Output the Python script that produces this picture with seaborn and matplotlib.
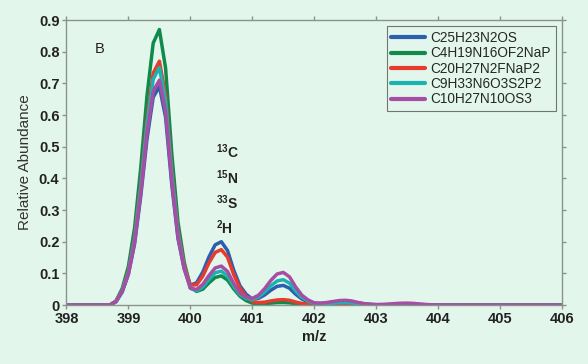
import numpy as np
import pandas as pd
import matplotlib
matplotlib.use("Agg")
import matplotlib.pyplot as plt
import seaborn as sns

# m/z grid (0.1 steps, 398 -> 406)
mz = np.round(np.linspace(398.0, 406.0, 81), 1)

formulas = ["C25H23N2OS", "C4H19N16OF2NaP", "C20H27N2FNaP2", "C9H33N6O3S2P2", "C10H27N10OS3"]
colors = ["#2b5fae", "#0f8a4c", "#e63b2e", "#1bb3b0", "#a64ea3"]

# relative abundance, one value per m/z point
blue = [0, 0, 0, 0, 0, 0, 0, 0, 0.010, 0.041,
        0.097, 0.193, 0.345, 0.524, 0.656, 0.690, 0.593, 0.380, 0.210, 0.116,
        0.063, 0.070, 0.104, 0.152, 0.190, 0.200, 0.172, 0.110, 0.061, 0.034,
        0.019, 0.021, 0.032, 0.047, 0.059, 0.062, 0.053, 0.034, 0.019, 0.010,
        0.005, 0.005, 0.006, 0.009, 0.011, 0.012, 0.010, 0.007, 0.004, 0.002,
        0.001, 0.001, 0.0015, 0.0023, 0.0029, 0.003, 0.0026, 0.0017, 0.0009, 0.0005,
        0.0002, 0, 0, 0, 0, 0, 0, 0, 0, 0,
        0, 0, 0, 0, 0, 0, 0, 0, 0, 0, 0]
green = [0, 0, 0, 0, 0, 0, 0, 0, 0.013, 0.052,
         0.122, 0.244, 0.435, 0.661, 0.827, 0.870, 0.748, 0.479, 0.262, 0.136,
         0.056, 0.043, 0.050, 0.070, 0.087, 0.092, 0.079, 0.051, 0.028, 0.014,
         0.006, 0.004, 0.0045, 0.006, 0.0076, 0.008, 0.0069, 0.0044, 0.0024, 0.0013,
         0.0005, 0.0003, 0.0005, 0.0008, 0.001, 0.001, 0.0009, 0.0006, 0.0003, 0.0002,
         0, 0, 0, 0, 0, 0, 0, 0, 0, 0,
         0, 0, 0, 0, 0, 0, 0, 0, 0, 0,
         0, 0, 0, 0, 0, 0, 0, 0, 0, 0, 0]
red = [0, 0, 0, 0, 0, 0, 0, 0, 0.012, 0.046,
       0.108, 0.216, 0.385, 0.585, 0.732, 0.770, 0.662, 0.424, 0.234, 0.126,
       0.063, 0.064, 0.091, 0.133, 0.166, 0.175, 0.151, 0.096, 0.053, 0.027,
       0.011, 0.008, 0.009, 0.013, 0.016, 0.017, 0.015, 0.0094, 0.0051, 0.0027,
       0.0012, 0.0009, 0.001, 0.0015, 0.0019, 0.002, 0.0017, 0.0011, 0.0006, 0.0003,
       0.0001, 0, 0, 0, 0, 0, 0, 0, 0, 0,
       0, 0, 0, 0, 0, 0, 0, 0, 0, 0,
       0, 0, 0, 0, 0, 0, 0, 0, 0, 0, 0]
cyan = [0, 0, 0, 0, 0, 0, 0, 0, 0.011, 0.045,
        0.105, 0.210, 0.375, 0.570, 0.713, 0.750, 0.645, 0.413, 0.227, 0.119,
        0.053, 0.045, 0.057, 0.081, 0.102, 0.107, 0.092, 0.059, 0.033, 0.021,
        0.017, 0.025, 0.041, 0.061, 0.076, 0.080, 0.069, 0.044, 0.024, 0.0125,
        0.005, 0.004, 0.0044, 0.006, 0.0076, 0.008, 0.0069, 0.0044, 0.0024, 0.0013,
        0.0007, 0.0008, 0.001, 0.0015, 0.0019, 0.002, 0.0017, 0.0011, 0.0006, 0.0003,
        0.0001, 0, 0, 0, 0, 0, 0, 0, 0, 0,
        0, 0, 0, 0, 0, 0, 0, 0, 0, 0, 0]
purple = [0, 0, 0, 0, 0, 0, 0, 0, 0.011, 0.043,
          0.099, 0.199, 0.355, 0.540, 0.675, 0.710, 0.611, 0.391, 0.215, 0.114,
          0.053, 0.049, 0.065, 0.093, 0.117, 0.123, 0.106, 0.068, 0.038, 0.025,
          0.021, 0.031, 0.052, 0.078, 0.098, 0.103, 0.089, 0.057, 0.031, 0.016,
          0.007, 0.006, 0.008, 0.011, 0.014, 0.015, 0.013, 0.0083, 0.0046, 0.0027,
          0.0016, 0.002, 0.003, 0.0046, 0.0057, 0.006, 0.0052, 0.0033, 0.0018, 0.0009,
          0.0003, 0, 0, 0, 0, 0, 0, 0, 0, 0,
          0, 0, 0, 0, 0, 0, 0, 0, 0, 0, 0]

isotopes = ["13", "15", "33", "2"]
elements = ["C", "N", "S", "H"]

series = {formulas[0]: blue, formulas[1]: green, formulas[2]: red,
          formulas[3]: cyan, formulas[4]: purple}
frames = [pd.DataFrame({"mz": mz, "abundance": v, "formula": k}) for k, v in series.items()]
df = pd.concat(frames, ignore_index=True)

bg = "#e3f6ec"
sns.set_style("ticks")
plt.rcParams["font.family"] = ["Liberation Sans", "DejaVu Sans"]
plt.rcParams["mathtext.fontset"] = "custom"
plt.rcParams["mathtext.bf"] = "Liberation Sans:bold"
plt.rcParams["mathtext.rm"] = "Liberation Sans"

fig = plt.figure(figsize=(5.88, 3.64), dpi=100, facecolor=bg)
ax = fig.add_axes([0.113, 0.162, 0.843, 0.783], facecolor=bg)

sns.lineplot(data=df, x="mz", y="abundance", hue="formula", hue_order=formulas,
             palette=colors, linewidth=2.5, ax=ax, legend=True)
for line in ax.get_lines():
    line.set_solid_joinstyle("round")

ax.set_xlim(398, 406)
ax.set_ylim(0, 0.9)
ax.set_xticks(range(398, 407))
ax.set_yticks(np.round(np.arange(0, 0.91, 0.1), 1))
ax.set_yticklabels(["0"] + [f"{t:.1f}" for t in np.arange(0.1, 0.91, 0.1)])
for lab in ax.get_xticklabels() + ax.get_yticklabels():
    lab.set_fontweight("bold")
    lab.set_fontsize(10.5)
    lab.set_color("#222222")

for s in ax.spines.values():
    s.set_color("#8a948e")
    s.set_linewidth(1.0)
ax.tick_params(axis="both", colors="#8a948e", labelcolor="#222222", length=3, width=1, pad=2)
ax.tick_params(top=True, right=True)

ax.set_xlabel("m/z", fontsize=10.5, fontweight="bold", color="#222222", labelpad=3)
ax.set_ylabel("Relative Abundance", fontsize=11, color="#333333", labelpad=5)

ax.text(398.45, 0.808, "B", fontsize=10.5, ha="left", va="center", color="#222222")
for i, (iso, el) in enumerate(zip(isotopes, elements)):
    ax.text(400.42, 0.483 - i * 0.08, r"$\mathbf{^{%s}%s}$" % (iso, el),
            fontsize=10, ha="left", va="center", color="#222222")

leg = ax.legend(loc="upper right", fontsize=9.8, frameon=True, fancybox=False,
                handlelength=2.5, labelspacing=0.1, borderpad=0.35,
                handletextpad=0.4, borderaxespad=0.45)
leg.get_frame().set_facecolor(bg)
leg.get_frame().set_edgecolor("#555555")
leg.get_frame().set_linewidth(0.8)
for line in leg.get_lines():
    line.set_linewidth(3)

fig.savefig("out.png", dpi=100, facecolor=bg)
